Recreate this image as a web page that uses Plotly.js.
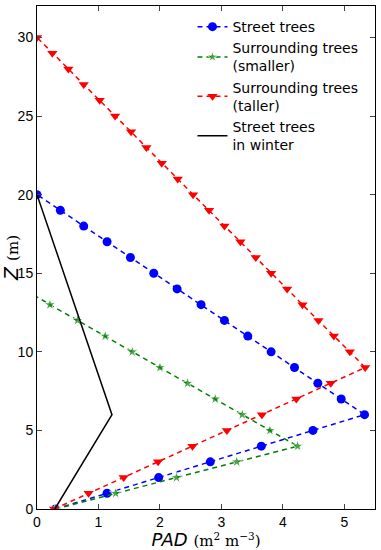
<!DOCTYPE html>
<html><head><meta charset="utf-8">
<script src="https://cdn.plot.ly/plotly-3.0.1.min.js"></script>
<style>html,body{margin:0;padding:0;background:#fff}#chart{width:381px;height:550px}</style>
</head><body><div id="chart"></div>
<script>
// Street trees (blue circles)
const streetZ = [0,1,2,3,4,5,6,7,8,9,10,11,12,13,14,15,16,17,18,19,20];
const streetPAD = [0.30,1.14,1.98,2.82,3.65,4.49,5.33,4.95,4.57,4.19,3.81,3.43,3.05,2.67,2.28,1.90,1.52,1.14,0.76,0.38,0.00];
// Surrounding trees (smaller) (green stars)
const smallZ = [0,1,2,3,4,5,6,7,8,9,10,11,12,13,13.5];
const smallPAD = [0.30,1.28,2.27,3.25,4.24,3.79,3.34,2.90,2.45,2.00,1.55,1.11,0.66,0.21,0.00];
const smallMarked = [1,1,1,1,1,1,1,1,1,1,1,1,1,1,0];
// Surrounding trees (taller) (red triangles)
const tallZ = [0,1,2,3,4,5,6,7,8,9,10,11,12,13,14,15,16,17,18,19,20,21,22,23,24,25,26,27,28,29,30];
const tallPAD = [0.28,0.84,1.41,1.97,2.53,3.09,3.66,4.22,4.78,5.34,5.09,4.83,4.58,4.32,4.07,3.81,3.56,3.31,3.05,2.80,2.54,2.29,2.03,1.78,1.53,1.27,1.02,0.76,0.51,0.25,0.00];
// Street trees in winter (black line)
const winterZ = [0,6,20];
const winterPAD = [0.29,1.22,0.00];

const names = ["Street trees","Surrounding trees<br>(smaller)","Surrounding trees<br>(taller)","Street trees<br>in winter"];
const xTicks = [0,1,2,3,4,5];
const yTicks = [0,5,10,15,20,25,30];

const traces = [
  {x: streetPAD, y: streetZ, name: names[0], mode: 'lines+markers', legendgroup:'a',
   line:{color:'#0000ff', dash:'5px,4px', width:1.5}, marker:{symbol:'circle', size:9, color:'#0000ff'}},
  {x: smallPAD, y: smallZ, name: names[1], mode: 'lines+markers', legendgroup:'b',
   line:{color:'#007f00', dash:'5px,4px', width:1.5}, marker:{symbol:'star', size: smallMarked.map(m=>m?9:0), color:'#007f00'}},
  {x: tallPAD, y: tallZ, name: names[2], mode: 'lines+markers', legendgroup:'c',
   line:{color:'#ff0000', dash:'5px,4px', width:1.5}, marker:{symbol:'triangle-down', size:9, color:'#ff0000'}},
  {x: winterPAD, y: winterZ, name: names[3], mode: 'lines', legendgroup:'d',
   line:{color:'#000000', width:1.5}}
];

const layout = {
  width: 381, height: 550,
  margin: {l:37, r:6, t:6, b:41},
  paper_bgcolor:'#ffffff', plot_bgcolor:'#ffffff',
  font: {family:'"Liberation Sans", Arial, sans-serif', size:14, color:'#000'},
  showlegend: true,
  legend: {x:0.46, y:0.99, xanchor:'left', yanchor:'top', bgcolor:'rgba(0,0,0,0)',
           font:{family:'"DejaVu Sans", sans-serif', size:14}, tracegroupgap:0, itemwidth:30},
  xaxis: {range:[0,5.5], tickvals:xTicks, ticktext:xTicks.map(String), ticks:'inside', ticklen:5,
          mirror:'allticks', showline:true, linecolor:'#000', linewidth:1, showgrid:false, zeroline:false,
          title:{text:'<i>PAD</i> <span style="font-family:\'DejaVu Serif\',serif;font-size:15px">(m<sup>2</sup> m<sup>−3</sup>)</span>',
                 font:{size:18, family:'"DejaVu Sans", sans-serif'}, standoff:4}},
  yaxis: {range:[0,32], tickvals:yTicks, ticktext:yTicks.map(String), ticks:'inside', ticklen:5,
          mirror:'allticks', showline:true, linecolor:'#000', linewidth:1, showgrid:false, zeroline:false,
          title:{text:'<i>Z</i> <span style="font-family:\'DejaVu Serif\',serif;font-size:15px">(m)</span>',
                 font:{size:19, family:'"DejaVu Sans", sans-serif'}, standoff:0}}
};
Plotly.newPlot('chart', traces, layout, {staticPlot:true, displayModeBar:false});
</script></body></html>
